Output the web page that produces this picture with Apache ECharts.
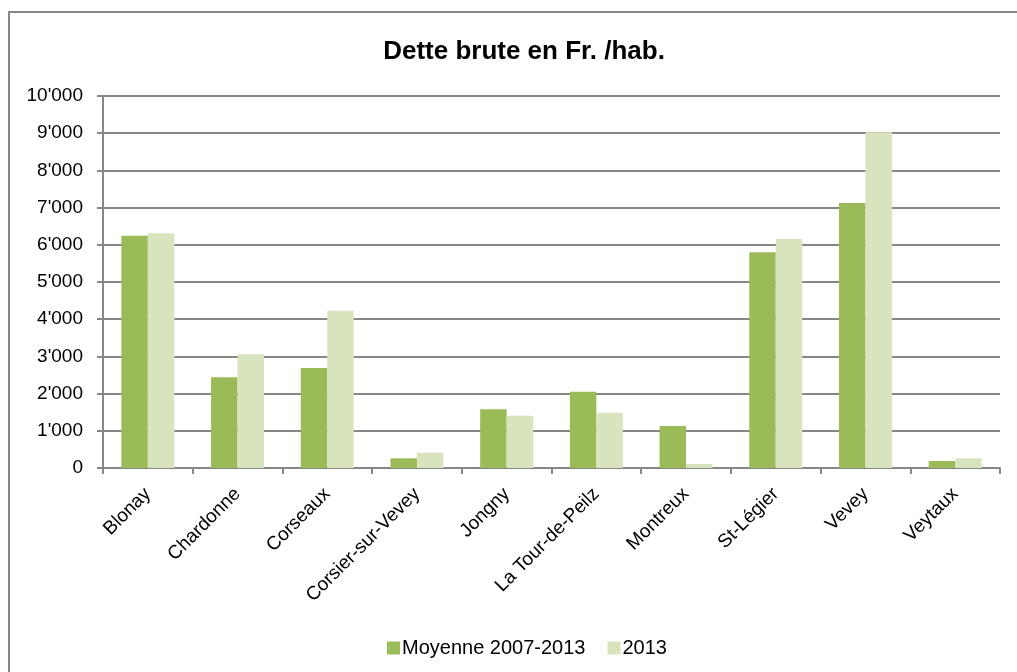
<!DOCTYPE html>
<html>
<head>
<meta charset="utf-8">
<script src="https://cdn.jsdelivr.net/npm/echarts@6/dist/echarts.min.js"></script>
<style>
  html, body { margin: 0; padding: 0; background: #fff; overflow: hidden; }
  #frame { position: absolute; left: 8px; top: 11px; width: 1100px; height: 800px; border: 2px solid #878787; box-sizing: border-box; }
  #main { position: absolute; left: 0; top: 0; width: 1017px; height: 672px; }
</style>
</head>
<body>
<div id="frame"></div>
<div id="main"></div>
<script>
const communes = ['Blonay', 'Chardonne', 'Corseaux', 'Corsier-sur-Vevey', 'Jongny', 'La Tour-de-Peilz', 'Montreux', 'St-Légier', 'Vevey', 'Veytaux']
const moyenne = [6245, 2438, 2688, 260, 1577, 2052, 1129, 5797, 7124, 188]
const annee2013 = [6308, 3056, 4229, 412, 1406, 1487, 108, 6156, 9024, 260]
const seriesNames = ['Moyenne 2007-2013', '2013']

const gridColor = '#878787'
const font = '"Liberation Sans", Arial, sans-serif'

// séparateur de milliers suisse
function fmt(v) {
  return String(v).replace(/\B(?=(\d{3})+(?!\d))/g, "'")
}

const chart = echarts.init(document.getElementById('main'))
chart.setOption({
  animation: false,
  textStyle: { fontFamily: font },
  title: {
    text: 'Dette brute en Fr. /hab.',
    left: 519,
    top: 34,
    textAlign: 'center',
    textStyle: { fontSize: 26, fontWeight: 'bold', color: '#000', fontFamily: font }
  },
  legend: {
    data: seriesNames,
    left: 382,
    top: 633,
    itemWidth: 13,
    itemHeight: 13,
    itemGap: 22,
    icon: 'rect',
    textStyle: { fontSize: 20, color: '#000', fontFamily: font, padding: [0, 0, 0, -3] }
  },
  grid: { left: 103, right: 17, top: 96, bottom: 204 },
  xAxis: {
    type: 'category',
    data: communes,
    axisLine: { lineStyle: { color: gridColor, width: 2 } },
    axisTick: { show: true, length: 6, lineStyle: { color: gridColor, width: 2 } },
    axisLabel: { rotate: 45, fontSize: 19, color: '#000', margin: 23, interval: 0, fontFamily: font }
  },
  yAxis: {
    type: 'value',
    min: 0,
    max: 10000,
    interval: 1000,
    axisLine: { show: true, lineStyle: { color: gridColor, width: 2 } },
    axisTick: { show: true, length: 6, lineStyle: { color: gridColor, width: 2 } },
    splitLine: { lineStyle: { color: gridColor, width: 2 } },
    axisLabel: { fontSize: 19, color: '#000', margin: 20, formatter: fmt, fontFamily: font }
  },
  series: [
    {
      name: seriesNames[0],
      type: 'bar',
      data: moyenne,
      barGap: '0%',
      barCategoryGap: '41%',
      itemStyle: { color: '#9BBB59' }
    },
    {
      name: seriesNames[1],
      type: 'bar',
      data: annee2013,
      itemStyle: { color: '#D7E4BD' }
    }
  ]
})
</script>
</body>
</html>
